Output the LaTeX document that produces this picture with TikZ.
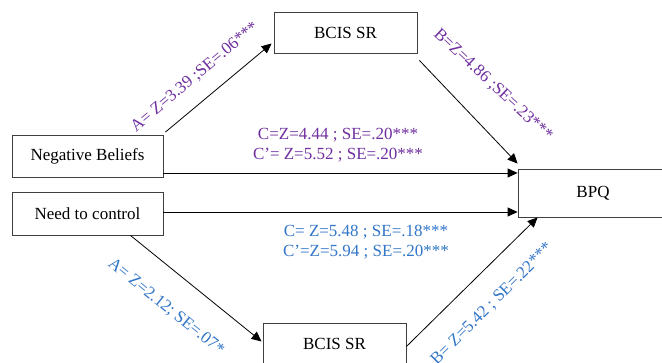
\documentclass[tikz,border=0pt]{standalone}
\usepackage{fontspec}
\setmainfont{Liberation Serif}
\usetikzlibrary{arrows.meta}
\definecolor{lblpurple}{RGB}{112,48,160}
\definecolor{lblblue}{RGB}{50,118,200}
\begin{document}
\begin{tikzpicture}[x=1pt,y=-1pt,
  box/.style={draw=black!75,line width=0.8pt,fill=white,minimum height=42pt,inner sep=0pt,font=\fontsize{17}{20}\selectfont},
  arr/.style={line width=0.8pt,-{Triangle[length=10pt,width=9pt]}},
  pl/.style={text=lblpurple,font=\fontsize{17}{20}\selectfont,inner sep=0pt},
  bl/.style={text=lblblue,font=\fontsize{17}{20}\selectfont,inner sep=0pt}]
\clip (0,0) rectangle (662,363);
\fill[white] (0,0) rectangle (662,363);
\node[box,minimum width=151pt] (nb) at (87.5,156.5) {Negative Beliefs};
\node[box,minimum width=151pt,minimum height=43pt] (ntc) at (87.5,213.5) {Need to control};
\node[box,minimum width=143pt,minimum height=41pt] (b1) at (345.5,32.5) {BCIS SR};
\node[box,minimum width=143pt,minimum height=41pt] (b2) at (334.5,343.5) {BCIS SR};
\node[box,minimum width=150pt,minimum height=48pt] (bpq) at (593,193) {BPQ};
\draw[arr] ([shift={(2,-3)}]nb.north east) -- ([shift={(-2,11)}]b1.west);
\draw[arr] ([shift={(2,7)}]b1.south east) -- ([shift={(0,-5)}]bpq.north west);
\draw[arr] (nb.east |- 0,173) -- (bpq.west |- 0,173);
\draw[arr] (ntc.east |- 0,212) -- (bpq.west |- 0,212);
\draw[arr] ([xshift=-33]ntc.south east) -- ([shift={(-1,-2)}]b2.west);
\draw[arr] ([shift={(0,3)}]b2.east) -- ([xshift=20]bpq.south west);
\node[pl,rotate=40] at (195,77) {A= Z=3.39 ;SE=.06***};
\node[pl,rotate=-43] at (493,85) {B=Z=4.86 ;SE=.23***};
\node[pl,align=center] at (338,145) {C=Z=4.44 ; SE=.20***\\C’= Z=5.52 ; SE=.20***};
\node[bl,align=center] at (366,242) {C= Z=5.48 ; SE=.18***\\C’=Z=5.94 ; SE=.20***};
\node[bl,rotate=-39] at (166,307) {A= Z=2.12; SE=.07*};
\node[bl,rotate=45] at (492,304) {B= Z=5.42 ; SE=.22***};
\end{tikzpicture}
\end{document}
